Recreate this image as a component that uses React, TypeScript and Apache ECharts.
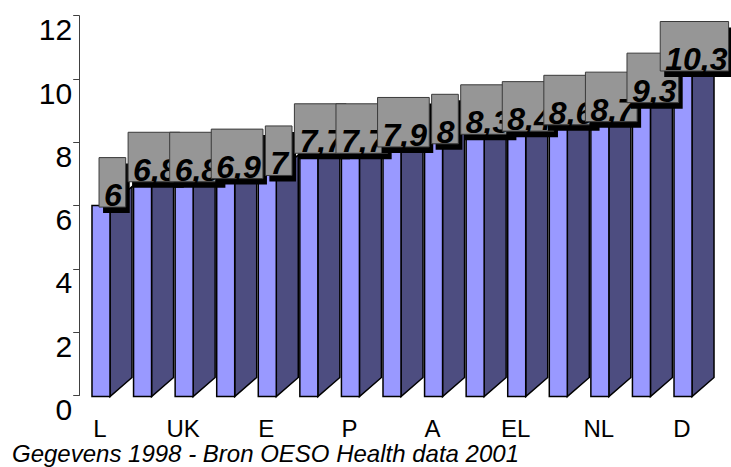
import React, { useEffect, useRef } from "react";
import * as echarts from "echarts";

const categories = ["L", "IRL", "UK", "FIN", "E", "I", "P", "S", "A", "DK", "EL", "B", "NL", "F", "D"];
const values = [6, 6.8, 6.8, 6.9, 7, 7.7, 7.7, 7.9, 8, 8.3, 8.4, 8.6, 8.7, 9.3, 10.3];
const yMin = 0;
const yMax = 12;
const yStep = 2;
const footnote = "Gegevens 1998 - Bron OESO Health data 2001";

const FONT = '"Liberation Sans", Arial, sans-serif';
const LABEL_FONT_SIZE = 32;

function fmt(v: number): string {
  return String(v).replace(".", ",");
}

let measureCtx: CanvasRenderingContext2D | null = null;
function measure(t: string): number {
  if (!measureCtx) {
    const c = document.createElement("canvas");
    measureCtx = c.getContext("2d");
  }
  if (!measureCtx) return t.length * 16;
  measureCtx.font = `italic bold 30px ${FONT}`;
  return measureCtx.measureText(t).width;
}

export default function App() {
  const ref = useRef<HTMLDivElement>(null);

  useEffect(() => {
    if (!ref.current) return;
    const chart = echarts.init(ref.current, undefined, { renderer: "svg" });
    const data = values.map((v, i) => [i, v]);

    chart.setOption({
      animation: false,
      grid: { left: 79.2, right: 28.2, top: 15.7, bottom: 71.5, containLabel: false },
      xAxis: {
        type: "category",
        data: categories,
        axisLine: { show: false },
        axisTick: { show: false },
        axisLabel: {
          interval: 1,
          fontSize: 24,
          fontFamily: FONT,
          color: "#000",
          margin: 24,
          lineHeight: 18,
        },
      },
      yAxis: {
        type: "value",
        min: yMin,
        max: yMax,
        interval: yStep,
        splitLine: { show: false },
        axisLine: { show: true, lineStyle: { color: "#404040", width: 1 } },
        axisTick: { show: true, length: 6, lineStyle: { color: "#404040", width: 1 } },
        axisLabel: {
          fontSize: 30,
          fontFamily: FONT,
          color: "#000",
          margin: 7,
          verticalAlign: "top",
          lineHeight: 28,
        },
      },
      series: [
        {
          type: "custom",
          z: 2,
          data,
          renderItem: (params: any, api: any) => {
            const idx = api.value(0);
            const v = api.value(1);
            const top = api.coord([idx, v]);
            const base = api.coord([idx, 0]);
            const cx = top[0];
            const x0 = cx - 8;
            const x1 = cx + 10;
            const dx = 22;
            const dy = 19;
            const yb = base[1] + 1;
            const yt = top[1];
            return {
              type: "group",
              children: [
                {
                  type: "polygon",
                  shape: { points: [[x1, yt], [x1 + dx, yt - dy], [x1 + dx, yb - dy], [x1, yb]] },
                  style: { fill: "#4D4D80", stroke: "#000", lineWidth: 1.5 },
                },
                {
                  type: "rect",
                  shape: { x: x0, y: yt, width: x1 - x0, height: yb - yt },
                  style: { fill: "#9999FF", stroke: "#000", lineWidth: 1.5 },
                },
              ],
            };
          },
        },
        {
          type: "custom",
          z: 5,
          data,
          renderItem: (params: any, api: any) => {
            const idx = api.value(0);
            const v = api.value(1);
            const top = api.coord([idx, v]);
            const label = fmt(v);
            const tw = measure(label);
            const w = tw + 10;
            const h = 49.5;
            const cx = top[0] + 12.4;
            const left = cx - w / 2;
            const bottom = top[1] + 1.5;
            return {
              type: "group",
              children: [
                {
                  type: "rect",
                  shape: { x: left + 4, y: bottom - h + 6, width: w, height: h },
                  style: { fill: "#000" },
                },
                {
                  type: "rect",
                  shape: { x: left, y: bottom - h, width: w, height: h },
                  style: { fill: "#969696", stroke: "#3a3a3a", lineWidth: 1 },
                },
                {
                  type: "text",
                  x: left + 5,
                  y: bottom - 1 - 11,
                  style: {
                    text: label,
                    fontSize: LABEL_FONT_SIZE,
                    fontStyle: "italic",
                    fontWeight: "bold",
                    fontFamily: FONT,
                    fill: "#000",
                    align: "left",
                    verticalAlign: "middle",
                  },
                },
              ],
            };
          },
        },
      ],
      graphic: [
        {
          type: "text",
          x: 12,
          y: 453.6,
          style: {
            text: footnote,
            fontSize: 24,
            lineHeight: 18,
            fontStyle: "italic",
            fontFamily: FONT,
            fill: "#000",
            verticalAlign: "middle",
          },
        },
      ],
    });

    return () => {
      chart.dispose();
    };
  }, []);

  return (
    <div
      ref={ref}
      style={{ position: "absolute", left: 0, top: 0, width: 731, height: 467, background: "#fff" }}
    />
  );
}
